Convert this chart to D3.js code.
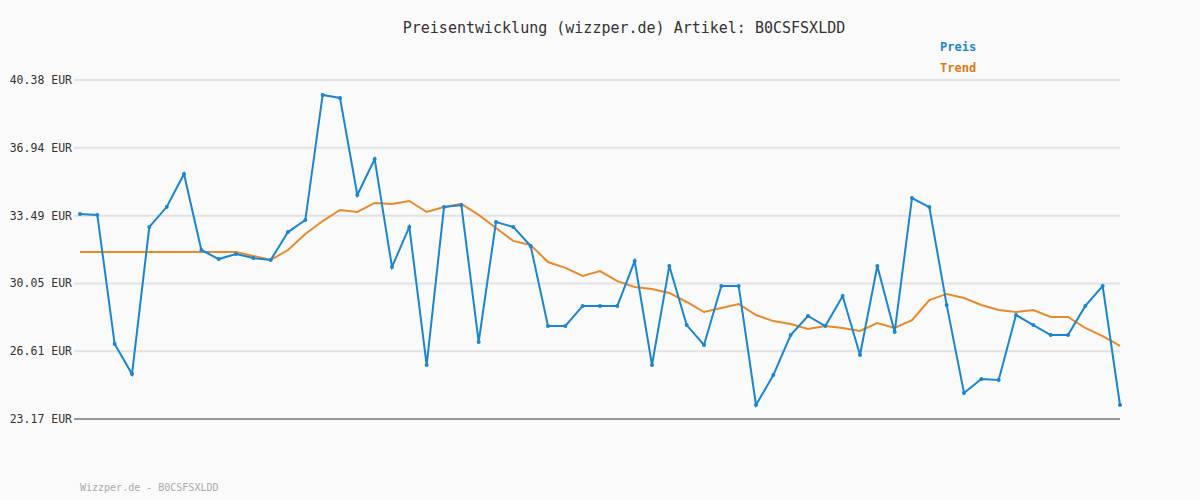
<!DOCTYPE html>
<html><head><meta charset="utf-8">
<script src="https://cdn.jsdelivr.net/npm/d3@7"></script>
<style>
body{margin:0;background:#fafafa;}
text{font-family:"DejaVu Sans Mono",monospace;}
</style></head>
<body><svg id="chart" width="1200" height="500"></svg>
<script>
var ticks = [23.17, 26.61, 30.05, 33.49, 36.94, 40.38];
var preis = [33.58,33.53,26.98,25.45,32.92,33.93,35.61,31.75,31.29,31.55,31.34,31.24,32.66,33.27,39.62,39.47,34.54,36.37,30.89,32.92,
  25.91,33.93,34.03,27.08,33.17,32.92,31.95,27.89,27.89,28.91,28.91,28.91,31.19,25.91,30.94,27.94,26.93,29.92,29.92,23.88,
  25.40,27.43,28.40,27.89,29.41,26.42,30.94,27.59,34.39,33.93,28.96,24.49,25.20,25.15,28.45,27.94,27.43,27.43,28.91,29.92,23.88];
var trend = [31.65,31.65,31.65,31.65,31.65,31.65,31.65,31.65,31.65,31.65,31.45,31.24,31.75,32.56,33.22,33.78,33.68,34.14,34.09,34.24,
  33.68,33.93,34.09,33.53,32.87,32.21,32.0,31.14,30.84,30.43,30.68,30.17,29.87,29.77,29.57,29.11,28.60,28.81,29.01,28.45,
  28.14,27.99,27.74,27.89,27.79,27.64,28.04,27.79,28.19,29.21,29.52,29.31,28.96,28.70,28.60,28.70,28.35,28.35,27.79,27.38,26.88];

var svg = d3.select("#chart");
var x = d3.scaleLinear().domain([0, preis.length - 1]).range([80, 1120]);
var y = d3.scaleLinear().domain([23.17, 40.38]).range([419, 80]);

// grid
svg.selectAll("line.grid").data(ticks).enter().append("line")
    .attr("x1", 74).attr("x2", 1120)
    .attr("y1", d => y(d)).attr("y2", d => y(d))
    .style("stroke", (d, i) => i == 0 ? "#999" : "#e2e2e2")
    .style("stroke-width", 2);
svg.selectAll("text.tick").data(ticks).enter().append("text")
    .attr("x", 72).attr("y", d => y(d) + 4)
    .attr("text-anchor", "end")
    .style("font-size", "11.5px").style("fill", "#333")
    .text(d => d.toFixed(2) + " EUR");

// lines
function drawLine(data, colour, dots) {
    var line = d3.line().x((d, i) => x(i)).y(d => y(d));
    svg.append("path").attr("d", line(data))
        .style("fill", "none").style("stroke", colour).style("stroke-width", 2);
    if (dots) {
        svg.selectAll(null).data(data).enter().append("circle")
            .attr("cx", (d, i) => x(i)).attr("cy", d => y(d)).attr("r", 2)
            .style("fill", colour);
    }
}
drawLine(trend, "#e8892a", false);
drawLine(preis, "#1a85d0", true);

// title + legend
svg.append("text").attr("x", 624).attr("y", 33).attr("text-anchor", "middle")
    .style("font-size", "15px").style("fill", "#333")
    .text("Preisentwicklung (wizzper.de) Artikel: B0CSFSXLDD");
svg.append("text").attr("x", 940).attr("y", 51)
    .style("font-size", "12px").style("font-weight", "bold").style("fill", "#1a85d0").text("Preis");
svg.append("text").attr("x", 940).attr("y", 72)
    .style("font-size", "12px").style("font-weight", "bold").style("fill", "#d97a12").text("Trend");
svg.append("text").attr("x", 80).attr("y", 491)
    .style("font-size", "10px").style("fill", "#aaa").text("Wizzper.de - B0CSFSXLDD");
</script></body></html>
